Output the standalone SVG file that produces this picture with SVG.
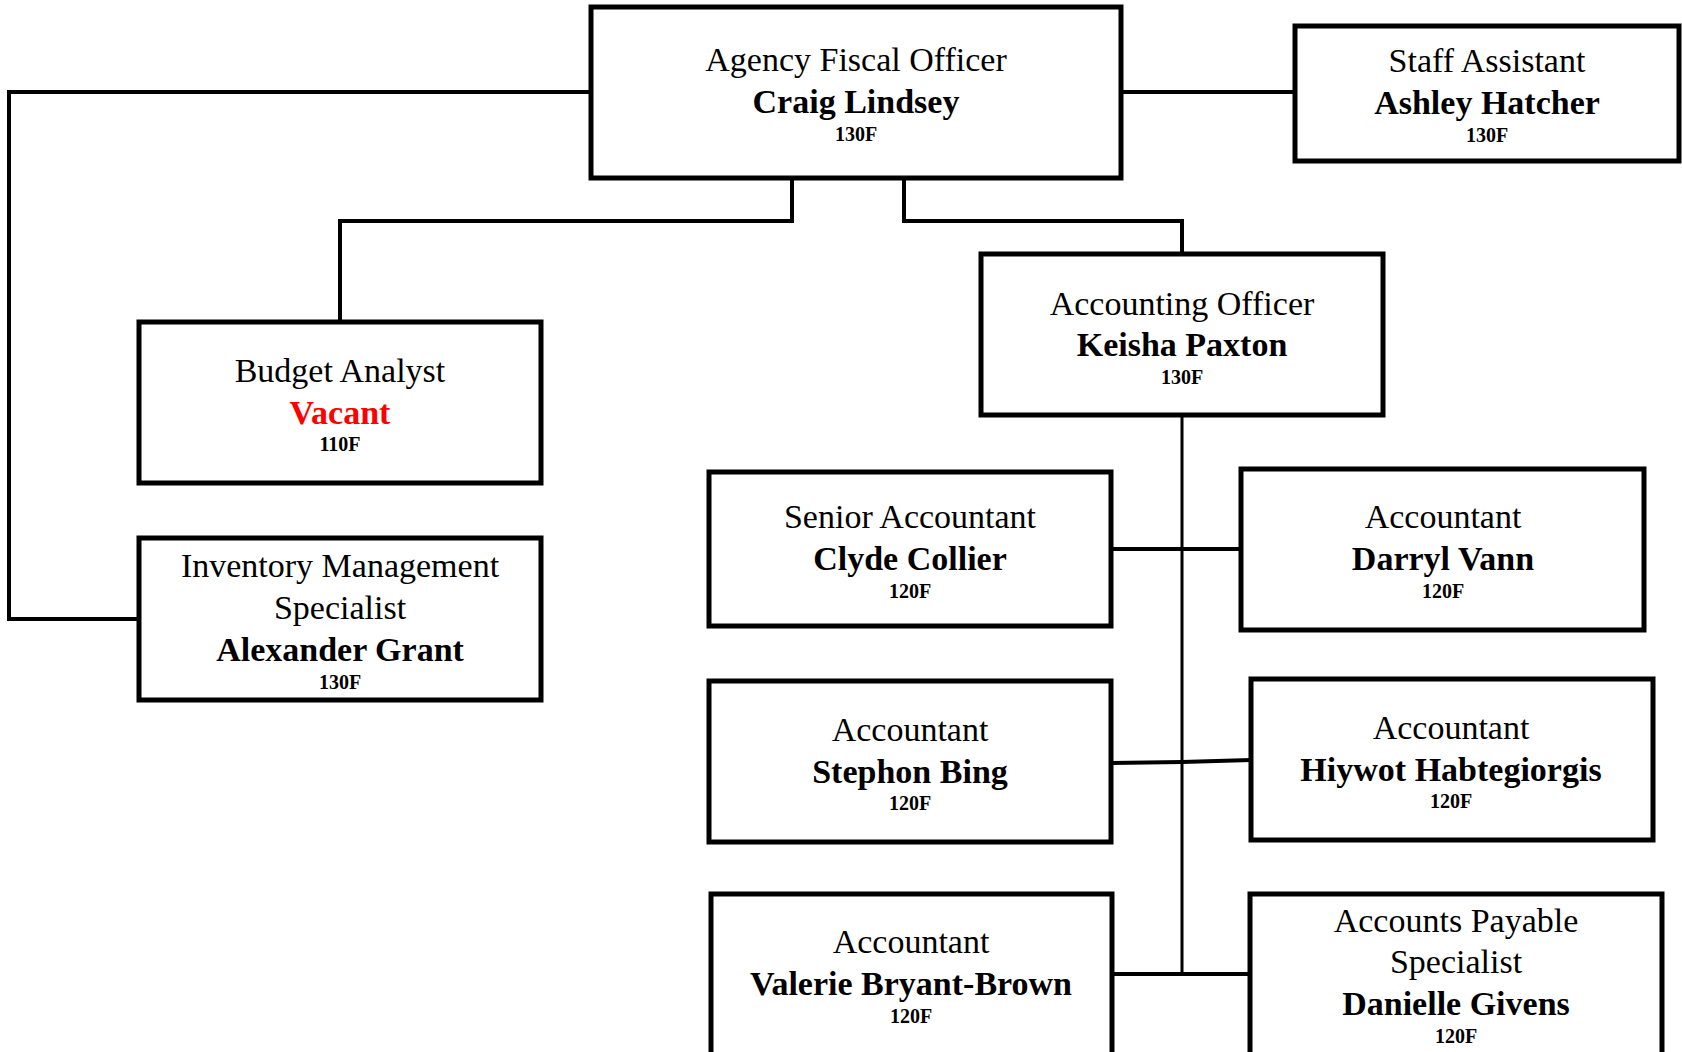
<svg xmlns="http://www.w3.org/2000/svg" width="1682" height="1052" viewBox="0 0 1682 1052">
<style>
.box{fill:#fff;stroke:#000;stroke-width:5}
.t{font-family:"Liberation Serif","Times New Roman",serif;font-size:34px;text-anchor:middle;fill:#000}
.n{font-family:"Liberation Serif","Times New Roman",serif;font-size:34px;font-weight:bold;text-anchor:middle;fill:#000}
.g{font-family:"Liberation Serif","Times New Roman",serif;font-size:20px;font-weight:bold;text-anchor:middle;fill:#000}
.c{fill:none;stroke:#000;stroke-width:4}
.trunk{fill:none;stroke:#000;stroke-width:3}
</style>
<rect width="1682" height="1052" fill="#fff"/>
<g id="connectors">
<polyline class="c" points="591,92 9,92 9,619 139,619"/>
<line class="c" x1="1121" y1="92" x2="1295" y2="92"/>
<polyline class="c" points="792,178 792,221 340,221 340,322"/>
<polyline class="c" points="904,178 904,221 1182,221 1182,254"/>
<line class="trunk" x1="1182" y1="415" x2="1182" y2="975"/>
<line class="c" x1="1111" y1="549" x2="1241" y2="549"/>
<polyline class="c" points="1111,763 1182,762 1251,760"/>
<line class="c" x1="1112" y1="974" x2="1250" y2="974"/>
</g>
<g id="agency-fiscal-officer">
<rect class="box" x="591" y="7" width="530" height="171"/>
<text class="t" x="856" y="71">Agency Fiscal Officer</text>
<text class="n" x="856" y="113">Craig Lindsey</text>
<text class="g" x="856" y="141">130F</text>
</g>
<g id="staff-assistant">
<rect class="box" x="1295" y="26" width="384" height="135"/>
<text class="t" x="1487" y="72">Staff Assistant</text>
<text class="n" x="1487" y="114">Ashley Hatcher</text>
<text class="g" x="1487" y="142">130F</text>
</g>
<g id="budget-analyst">
<rect class="box" x="139" y="322" width="402" height="161"/>
<text class="t" x="340" y="382">Budget Analyst</text>
<text class="n" x="340" y="424" fill="#f00" style="fill:#ff0000">Vacant</text>
<text class="g" x="340" y="451">110F</text>
</g>
<g id="inventory-management-specialist">
<rect class="box" x="139" y="538" width="402" height="162"/>
<text class="t" x="340" y="577">Inventory Management</text>
<text class="t" x="340" y="619">Specialist</text>
<text class="n" x="340" y="661">Alexander Grant</text>
<text class="g" x="340" y="689">130F</text>
</g>
<g id="accounting-officer">
<rect class="box" x="981" y="254" width="402" height="161"/>
<text class="t" x="1182" y="315">Accounting Officer</text>
<text class="n" x="1182" y="356">Keisha Paxton</text>
<text class="g" x="1182" y="384">130F</text>
</g>
<g id="senior-accountant">
<rect class="box" x="709" y="472" width="402" height="154"/>
<text class="t" x="910" y="528">Senior Accountant</text>
<text class="n" x="910" y="570">Clyde Collier</text>
<text class="g" x="910" y="598">120F</text>
</g>
<g id="accountant-darryl-vann">
<rect class="box" x="1241" y="469" width="403" height="161"/>
<text class="t" x="1443" y="528">Accountant</text>
<text class="n" x="1443" y="570">Darryl Vann</text>
<text class="g" x="1443" y="598">120F</text>
</g>
<g id="accountant-stephon-bing">
<rect class="box" x="709" y="681" width="402" height="161"/>
<text class="t" x="910" y="741">Accountant</text>
<text class="n" x="910" y="783">Stephon Bing</text>
<text class="g" x="910" y="810">120F</text>
</g>
<g id="accountant-hiywot-habtegiorgis">
<rect class="box" x="1251" y="679" width="402" height="161"/>
<text class="t" x="1451" y="739">Accountant</text>
<text class="n" x="1451" y="781">Hiywot Habtegiorgis</text>
<text class="g" x="1451" y="808">120F</text>
</g>
<g id="accountant-valerie-bryant-brown">
<rect class="box" x="711" y="894" width="401" height="170"/>
<text class="t" x="911" y="953">Accountant</text>
<text class="n" x="911" y="995">Valerie Bryant-Brown</text>
<text class="g" x="911" y="1023">120F</text>
</g>
<g id="accounts-payable-specialist">
<rect class="box" x="1250" y="894" width="412" height="170"/>
<text class="t" x="1456" y="932">Accounts Payable</text>
<text class="t" x="1456" y="973">Specialist</text>
<text class="n" x="1456" y="1015">Danielle Givens</text>
<text class="g" x="1456" y="1043">120F</text>
</g>
</svg>
